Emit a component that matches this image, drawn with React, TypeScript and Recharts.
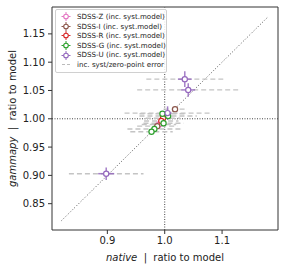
import React from 'react';
import {
  ScatterChart, Scatter, XAxis, YAxis, ErrorBar, ReferenceLine,
} from 'recharts';

// x = native ratio, y = gammapy ratio, ex/ey = stat errors, sys = syst/zero-point error (x)
const sdssZ = [
  { x: 0.990, y: 0.990, ex: 0.003, ey: 0.003, sys: 0.03 },
];
const sdssI = [
  { x: 1.018, y: 1.017, ex: 0.003, ey: 0.003, sys: 0.02 },
  { x: 0.987, y: 0.987, ex: 0.003, ey: 0.003, sys: 0.035 },
];
const sdssR = [
  { x: 0.997, y: 1.001, ex: 0.003, ey: 0.003, sys: 0.03 },
  { x: 0.994, y: 0.996, ex: 0.003, ey: 0.003, sys: 0.03 },
];
const sdssG = [
  { x: 0.996, y: 1.009, ex: 0.003, ey: 0.003, sys: 0.04 },
  { x: 1.006, y: 1.005, ex: 0.003, ey: 0.003, sys: 0.05 },
  { x: 0.998, y: 0.992, ex: 0.003, ey: 0.003, sys: 0.035 },
  { x: 0.982, y: 0.982, ex: 0.003, ey: 0.003, sys: 0.047 },
  { x: 0.977, y: 0.977, ex: 0.003, ey: 0.003, sys: 0.037 },
];
const sdssU = [
  { x: 0.898, y: 0.903, ex: 0.014, ey: 0.011, sys: 0.065 },
  { x: 1.035, y: 1.070, ex: 0.012, ey: 0.014, sys: 0.067 },
  { x: 1.041, y: 1.051, ex: 0.012, ey: 0.012, sys: 0.089 },
  { x: 1.005, y: 1.010, ex: 0.007, ey: 0.012, sys: 0.075 },
];

const xTicks = [0.9, 1.0, 1.1];
const yTicks = [0.85, 0.9, 0.95, 1.0, 1.05, 1.1, 1.15];
const diagonal = [0.82, 1.18];

const LO = 0.8035;
const HI = 1.1975;

const series = [
  { name: 'SDSS-Z (inc. syst.model)', color: '#e377c2', data: sdssZ },
  { name: 'SDSS-I (inc. syst.model)', color: '#8c564b', data: sdssI },
  { name: 'SDSS-R (inc. syst.model)', color: '#d62728', data: sdssR },
  { name: 'SDSS-G (inc. syst.model)', color: '#2ca02c', data: sdssG },
  { name: 'SDSS-U (inc. syst.model)', color: '#9467bd', data: sdssU },
];

const FONT = 'DejaVu Sans, sans-serif';
const FRAME = '#333';
const SEP = '\u00a0\u00a0|\u00a0\u00a0ratio to model';

function dot(color: string) {
  return (props: any) => (
    <circle cx={props.cx} cy={props.cy} r={2.6} fill="#fff" stroke={color} strokeWidth={1.2} />
  );
}

function LegendMark({ color }: { color: string }) {
  return (
    <svg width={12} height={9} style={{ display: 'block' }}>
      <line x1={1.5} x2={10.5} y1={4.5} y2={4.5} stroke={color} strokeWidth={1} />
      <line x1={6} x2={6} y1={0} y2={9} stroke={color} strokeWidth={1} />
      <circle cx={6} cy={4.5} r={2.3} fill="#fff" stroke={color} strokeWidth={1.1} />
    </svg>
  );
}

function ChartLegend() {
  return (
    <div style={{
      position: 'absolute', left: 55, top: 9, width: 106, padding: '2px 0 2px 4px',
      border: '1px solid #d0d0d0', borderRadius: 2, background: 'rgba(255,255,255,0.85)',
      fontFamily: FONT, fontSize: 7.1, color: '#222', lineHeight: '9.6px',
    }}>
      {series.map(s => (
        <div key={s.name} style={{ display: 'flex', alignItems: 'center', height: 9.6 }}>
          <LegendMark color={s.color} />
          <span style={{ marginLeft: 5, whiteSpace: 'nowrap' }}>{s.name}</span>
        </div>
      ))}
      <div style={{ display: 'flex', alignItems: 'center', height: 9.6 }}>
        <svg width={12} height={9} style={{ display: 'block' }}>
          <line x1={2} x2={10} y1={4.5} y2={4.5} stroke="#bbb" strokeWidth={1.2} strokeDasharray="3 2" />
        </svg>
        <span style={{ marginLeft: 5, whiteSpace: 'nowrap' }}>inc. syst/zero-point error</span>
      </div>
    </div>
  );
}

const allPoints = series.flatMap(s => s.data);

export default function App() {
  return (
    <div style={{ position: 'absolute', left: 0, top: 0, width: 285, height: 271 }}>
      <ScatterChart width={285} height={271} margin={{ top: 7, right: 7, bottom: 0, left: 0 }}
        style={{ fontFamily: FONT }}>
        <XAxis type="number" dataKey="x" domain={[LO, HI]} ticks={xTicks} height={41}
          allowDataOverflow tickFormatter={(v: number) => v.toFixed(1)}
          tickSize={4} tickMargin={3} stroke={FRAME}
          tick={{ fill: '#222', fontSize: 10, fontFamily: FONT }}
          label={(p: any) => {
            const vb = p.viewBox;
            return (
              <text x={vb.x + vb.width / 2} y={vb.y + 31} textAnchor="middle" fontSize={10}
                fontFamily={FONT} fill="#222">
                <tspan fontStyle="italic">native</tspan>
                <tspan>{SEP}</tspan>
              </text>
            );
          }}
        />
        <YAxis type="number" dataKey="y" domain={[LO, HI]} ticks={yTicks} width={52}
          allowDataOverflow tickFormatter={(v: number) => v.toFixed(2)}
          tickSize={4} tickMargin={3} stroke={FRAME}
          tick={{ fill: '#222', fontSize: 10, fontFamily: FONT }}
          label={(p: any) => {
            const vb = p.viewBox;
            const cx = 16;
            const cy = vb.y + vb.height / 2;
            return (
              <text x={cx} y={cy} textAnchor="middle" fontSize={10} fontFamily={FONT} fill="#222"
                transform={`rotate(-90 ${cx} ${cy})`}>
                <tspan fontStyle="italic">gammapy</tspan>
                <tspan>{SEP}</tspan>
              </text>
            );
          }}
        />
        <ReferenceLine y={HI} stroke={FRAME} strokeWidth={1} />
        <ReferenceLine x={HI} stroke={FRAME} strokeWidth={1} />
        <ReferenceLine x={1} stroke="#444" strokeWidth={1} strokeDasharray="1 1.5" />
        <ReferenceLine y={1} stroke="#444" strokeWidth={1} strokeDasharray="1 1.5" />
        <ReferenceLine
          segment={[{ x: diagonal[0], y: diagonal[0] }, { x: diagonal[1], y: diagonal[1] }]}
          stroke="#555" strokeWidth={1} strokeDasharray="1 2" />
        <Scatter data={allPoints} isAnimationActive={false} shape={() => <g />}>
          <ErrorBar dataKey="sys" direction="x" width={0} stroke="#c4c4c4" strokeWidth={1.4}
            strokeDasharray="5 3" />
        </Scatter>
        {series.map(s => (
          <Scatter key={s.name} name={s.name} data={s.data} isAnimationActive={false} shape={dot(s.color)}>
            <ErrorBar dataKey="ex" direction="x" width={0} stroke={s.color} strokeOpacity={0.85} strokeWidth={1.5} />
            <ErrorBar dataKey="ey" direction="y" width={0} stroke={s.color} strokeOpacity={0.85} strokeWidth={1.5} />
          </Scatter>
        ))}
      </ScatterChart>
      <ChartLegend />
    </div>
  );
}
